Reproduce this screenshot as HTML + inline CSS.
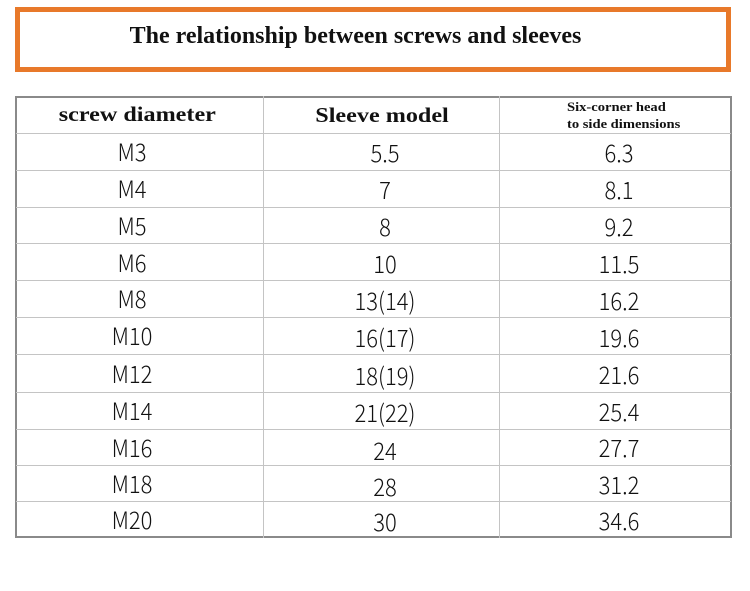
<!DOCTYPE html>
<html>
<head>
<meta charset="utf-8">
<style>
  html, body { margin:0; padding:0; background:#fff; }
  body { width:750px; height:591px; position:relative; overflow:hidden; }
  .box { position:absolute; left:15px; top:7px; width:716px; height:65px; box-sizing:border-box; border:5px solid #E8792A; }
  .title { position:absolute; left:0; top:24px; width:711px; text-align:center; font-family:"Liberation Serif", serif; font-weight:bold; font-size:24px; line-height:24px; color:#111; white-space:nowrap; }
  .tbl { position:absolute; left:15px; top:96px; width:717px; height:442px; box-sizing:border-box; border:2px solid #8a8a8a; }
  .v { position:absolute; top:96px; width:1px; height:442px; background:#c4c4c4; }
  .h { position:absolute; left:16px; width:715px; height:1px; background:#c4c4c4; }
  .hd { position:absolute; font-family:"Liberation Serif", serif; font-weight:bold; color:#111; white-space:nowrap; }
  .hc { width:300px; text-align:center; font-size:21px; line-height:21px; }
  .hc span { display:inline-block; transform:scaleX(1.15); }
  .small { font-size:13px; line-height:17px; transform:scaleX(1.12); transform-origin:left top; }
  .c { position:absolute; width:200px; height:37px; line-height:37px; text-align:center; font-family:"Noto Sans CJK SC","Liberation Sans",sans-serif; font-weight:300; font-size:22px; color:#111; white-space:nowrap; }
  .c span { display:inline-block; transform:scaleY(1.1); }
</style>
</head>
<body>
  <div class="box"></div>
  <div class="title">The relationship between screws and sleeves</div>

  <div class="tbl"></div>
  <div class="v" style="left:263px"></div>
  <div class="v" style="left:499px"></div>

  <div class="h" style="top:133px"></div>
  <div class="h" style="top:170px"></div>
  <div class="h" style="top:207px"></div>
  <div class="h" style="top:243px"></div>
  <div class="h" style="top:280px"></div>
  <div class="h" style="top:317px"></div>
  <div class="h" style="top:354px"></div>
  <div class="h" style="top:392px"></div>
  <div class="h" style="top:429px"></div>
  <div class="h" style="top:465px"></div>
  <div class="h" style="top:501px"></div>

  <!-- headers -->
  <div class="hd hc" style="left:-13px; top:104px"><span>screw diameter</span></div>
  <div class="hd hc" style="left:232px; top:105px"><span>Sleeve model</span></div>
  <div class="hd small" style="left:567px; top:98px">Six-corner head<br>to side dimensions</div>

  <!-- column 1 -->
  <div class="c" style="left:32px; top:133px"><span>M3</span></div>
  <div class="c" style="left:32px; top:170px"><span>M4</span></div>
  <div class="c" style="left:32px; top:207px"><span>M5</span></div>
  <div class="c" style="left:32px; top:244px"><span>M6</span></div>
  <div class="c" style="left:32px; top:280px"><span>M8</span></div>
  <div class="c" style="left:32px; top:317px"><span>M10</span></div>
  <div class="c" style="left:32px; top:355px"><span>M12</span></div>
  <div class="c" style="left:32px; top:392px"><span>M14</span></div>
  <div class="c" style="left:32px; top:429px"><span>M16</span></div>
  <div class="c" style="left:32px; top:465px"><span>M18</span></div>
  <div class="c" style="left:32px; top:501px"><span>M20</span></div>

  <!-- column 2 -->
  <div class="c" style="left:285px; top:134px"><span>5.5</span></div>
  <div class="c" style="left:285px; top:171px"><span>7</span></div>
  <div class="c" style="left:285px; top:208px"><span>8</span></div>
  <div class="c" style="left:285px; top:245px"><span>10</span></div>
  <div class="c" style="left:285px; top:282px"><span>13(14)</span></div>
  <div class="c" style="left:285px; top:319px"><span>16(17)</span></div>
  <div class="c" style="left:285px; top:357px"><span>18(19)</span></div>
  <div class="c" style="left:285px; top:394px"><span>21(22)</span></div>
  <div class="c" style="left:285px; top:432px"><span>24</span></div>
  <div class="c" style="left:285px; top:468px"><span>28</span></div>
  <div class="c" style="left:285px; top:503px"><span>30</span></div>

  <!-- column 3 -->
  <div class="c" style="left:519px; top:134px"><span>6.3</span></div>
  <div class="c" style="left:519px; top:171px"><span>8.1</span></div>
  <div class="c" style="left:519px; top:208px"><span>9.2</span></div>
  <div class="c" style="left:519px; top:245px"><span>11.5</span></div>
  <div class="c" style="left:519px; top:282px"><span>16.2</span></div>
  <div class="c" style="left:519px; top:319px"><span>19.6</span></div>
  <div class="c" style="left:519px; top:356px"><span>21.6</span></div>
  <div class="c" style="left:519px; top:393px"><span>25.4</span></div>
  <div class="c" style="left:519px; top:429px"><span>27.7</span></div>
  <div class="c" style="left:519px; top:466px"><span>31.2</span></div>
  <div class="c" style="left:519px; top:502px"><span>34.6</span></div>
</body>
</html>
